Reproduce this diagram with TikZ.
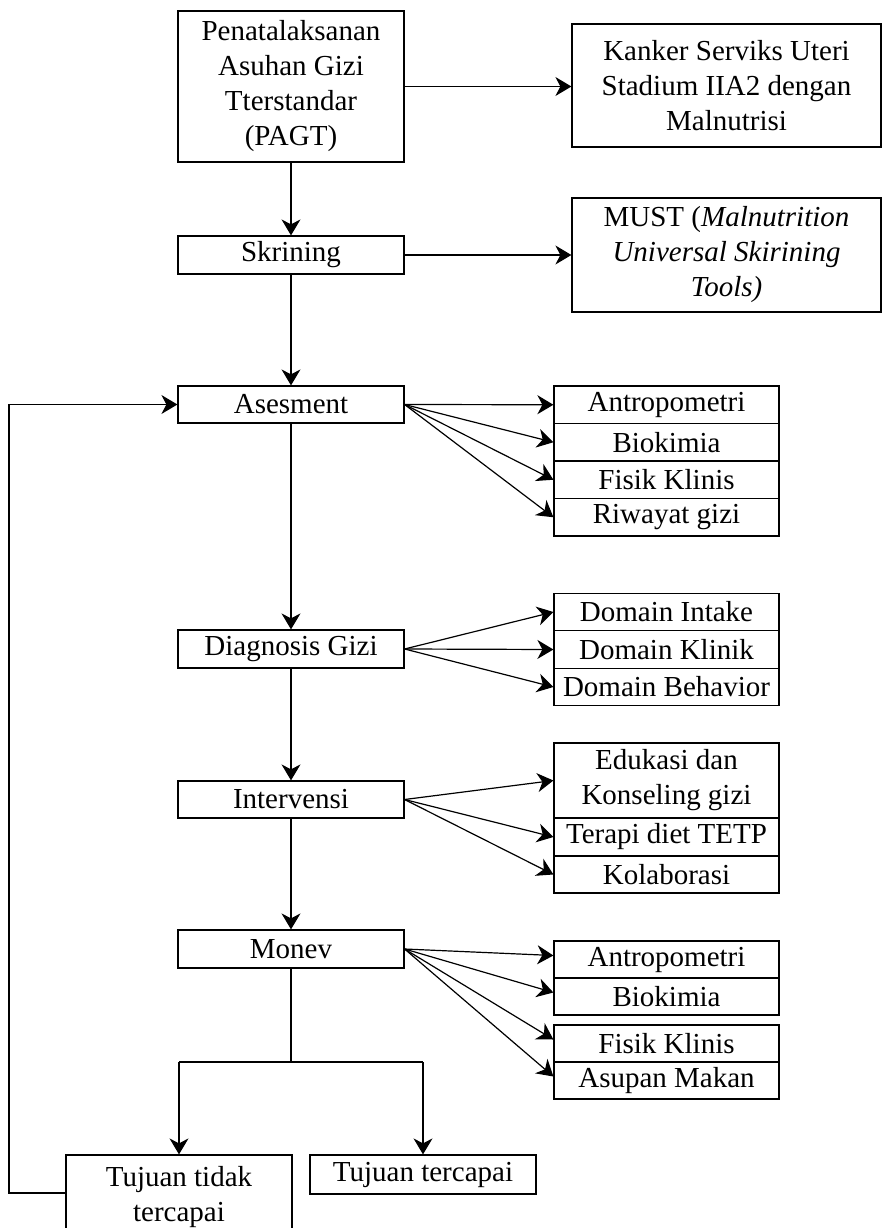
\documentclass[tikz,border=0pt]{standalone}
\usepackage{fontspec}
\setmainfont{Liberation Serif}
\usetikzlibrary{arrows.meta}
\begin{document}
\begin{tikzpicture}[x=1pt,y=-1pt,
  box/.style={draw, line width=1.2pt, minimum width=226pt, inner sep=1pt, align=center, font=\fontsize{29}{35}\selectfont},
  sub/.style={box, minimum width=225pt, minimum height=37.5pt},
  wide/.style={box, minimum width=309pt},
  conn/.style={line width=1.2pt, -{Stealth[length=16pt,width=19pt,inset=5pt]}},
  plain/.style={line width=1.2pt}]
\useasboundingbox (0,0) rectangle (883,1228);

% main column
\node[box, minimum height=151pt] (pagt) at (291,86.5) {Penatalaksanan\\Asuhan Gizi\\Tterstandar\\(PAGT)};
\node[box, minimum height=38pt] (skr) at (291,255) {Skrining};
\node[box, minimum height=37pt] (ases) at (291,404.5) {Asesment};
\node[box, minimum height=38pt] (diag) at (291,649) {Diagnosis Gizi};
\node[box, minimum height=37pt] (intv) at (291,799.5) {Intervensi};
\node[box, minimum height=38pt] (monev) at (291,949) {Monev};
\node[box, minimum height=84pt] (tt) at (179,1197) {Tujuan tidak\\tercapai};
\node[box, minimum height=39pt] (tc) at (423,1174.5) {Tujuan tercapai};

% right boxes
\node[wide, minimum height=123pt] (kanker) at (726.5,85.5) {Kanker Serviks Uteri\\Stadium IIA2 dengan\\Malnutrisi};
\node[wide, minimum height=114pt] (must) at (726.5,255) {MUST (\textit{Malnutrition}\\\textit{Universal Skirining}\\\textit{Tools)}};

\node[sub] (a1) at (666.5,404.75) {Antropometri};
\node[sub] (a2) at (666.5,442.25) {Biokimia};
\node[sub] (a3) at (666.5,479.75) {Fisik Klinis};
\node[sub] (a4) at (666.5,517.25) {Riwayat gizi};

\node[sub] (d1) at (666.5,612) {Domain Intake};
\node[sub] (d2) at (666.5,649.5) {Domain Klinik};
\node[sub] (d3) at (666.5,687) {Domain Behavior};

\node[sub, minimum height=75pt] (e1) at (666.5,780.5) {Edukasi dan\\Konseling gizi};
\node[sub, minimum height=38pt] (e2) at (666.5,837) {Terapi diet TETP};
\node[sub, minimum height=37pt] (e3) at (666.5,874.5) {Kolaborasi};

\node[sub, minimum height=37pt] (m1) at (666.5,959.5) {Antropometri};
\node[sub, minimum height=37pt] (m2) at (666.5,996.5) {Biokimia};
\node[sub, minimum height=37pt] (m3) at (666.5,1043.5) {Fisik Klinis};
\node[sub, minimum height=37pt] (m4) at (666.5,1080.5) {Asupan Makan};

% coordinates
\coordinate (split) at (291,1062);
\coordinate (sl) at (179,1062);
\coordinate (sr) at (423,1062);
\coordinate (lb) at (9,1193);
\coordinate (lt) at (9,404.5);

% main flow
\draw[conn] (pagt) -- (skr);
\draw[conn] (skr) -- (ases);
\draw[conn] (ases) -- (diag);
\draw[conn] (diag) -- (intv);
\draw[conn] (intv) -- (monev);
\draw[plain] (monev) -- (split);
\draw[plain] (sl) -- (sr);
\draw[conn] (sl) -- (tt.north);
\draw[conn] (sr) -- (tc.north);
\draw[conn] (tt.west |- lb) -- (lb) -- (lt) -- (ases.west);

% right arrows
\draw[conn] (pagt.east) -- (pagt.east -| kanker.west);
\draw[conn] (skr.east) -- (skr.east -| must.west);
\foreach \n in {a1,a2,a3,a4} \draw[conn] (ases.east) -- (\n.west);
\foreach \n in {d1,d2,d3} \draw[conn] (diag.east) -- (\n.west);
\foreach \n in {e1,e2,e3} \draw[conn] (intv.east) -- (\n.west);
\foreach \n in {m1,m2,m3,m4} \draw[conn] (monev.east) -- ([yshift=4pt]\n.west);
\end{tikzpicture}
\end{document}
